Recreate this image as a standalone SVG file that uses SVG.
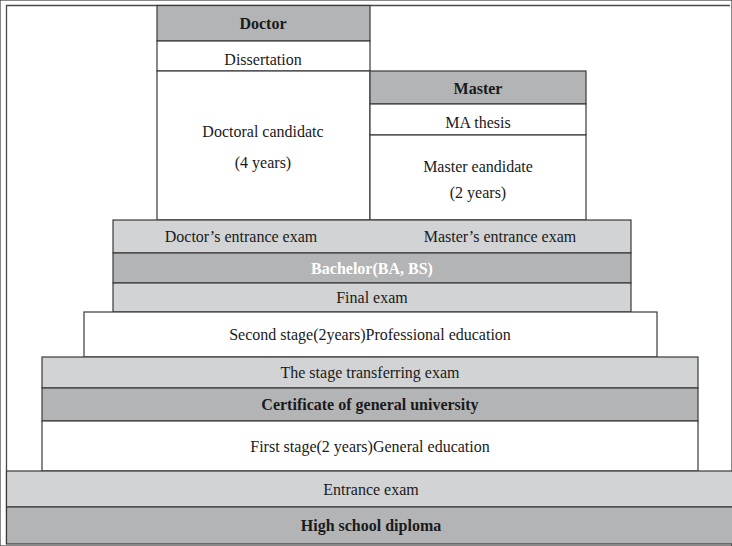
<svg xmlns="http://www.w3.org/2000/svg" width="732" height="546" viewBox="0 0 732 546">
<style>
rect{stroke:#3a3a3a;stroke-width:1.2}
.w{fill:#ffffff}
.l{fill:#d2d3d5}
.d{fill:#b3b4b6}
text{font-family:"Liberation Serif","Times New Roman",serif;font-size:16px;fill:#1a1a1a;text-anchor:middle}
.b{font-weight:bold}
.wt{fill:#ffffff}
</style>
<rect x="0" y="0" width="732" height="546" fill="#ffffff" stroke="none"/>
<path d="M6.5,544 V5.5 H730" fill="none" stroke="#4a4a4a" stroke-width="1.3"/>
<g id="doctor">
<rect class="d" x="157" y="5.5" width="213" height="35.5"/>
<text class="b" x="263" y="28.5">Doctor</text>
</g>
<g id="dissertation">
<rect class="w" x="157" y="41" width="213" height="30"/>
<text x="263" y="65">Dissertation</text>
</g>
<g id="doctoral-candidate">
<rect class="w" x="157" y="71" width="213" height="149"/>
<text x="263" y="137">Doctoral candidatc</text>
<text x="263" y="168">(4 years)</text>
</g>
<g id="master">
<rect class="d" x="370" y="71" width="216" height="33"/>
<text class="b" x="478" y="93.5">Master</text>
</g>
<g id="ma-thesis">
<rect class="w" x="370" y="104" width="216" height="31"/>
<text x="478" y="128">MA thesis</text>
</g>
<g id="master-candidate">
<rect class="w" x="370" y="135" width="216" height="85"/>
<text x="478" y="172">Master eandidate</text>
<text x="478" y="198">(2 years)</text>
</g>
<g id="entrance-exams">
<rect class="l" x="113" y="220" width="518" height="33"/>
<text x="241" y="241.5">Doctor’s entrance exam</text>
<text x="500" y="241.5">Master’s entrance exam</text>
</g>
<g id="bachelor">
<rect class="d" x="113" y="253" width="518" height="30"/>
<text class="b wt" x="372" y="273.5">Bachelor(BA, BS)</text>
</g>
<g id="final-exam">
<rect class="l" x="113" y="283" width="518" height="29"/>
<text x="372" y="303">Final exam</text>
</g>
<g id="second-stage">
<rect class="w" x="84" y="312" width="573" height="45"/>
<text x="370" y="339.5">Second stage(2years)Professional education</text>
</g>
<g id="stage-transfer">
<rect class="l" x="42" y="357" width="656" height="31"/>
<text x="370" y="377.5">The stage transferring exam</text>
</g>
<g id="certificate">
<rect class="d" x="42" y="388" width="656" height="33"/>
<text class="b" x="370" y="409.5">Certificate of general university</text>
</g>
<g id="first-stage">
<rect class="w" x="42" y="421" width="656" height="50"/>
<text x="370" y="451.5">First stage(2 years)General education</text>
</g>
<g id="entrance-exam">
<rect class="l" x="6.5" y="471" width="730" height="36"/>
<text x="371" y="494.5">Entrance exam</text>
</g>
<g id="high-school">
<rect class="d" x="6.5" y="507" width="730" height="37"/>
<text class="b" x="371" y="530.5">High school diploma</text>
</g>
<g id="connectors"/>
</svg>
